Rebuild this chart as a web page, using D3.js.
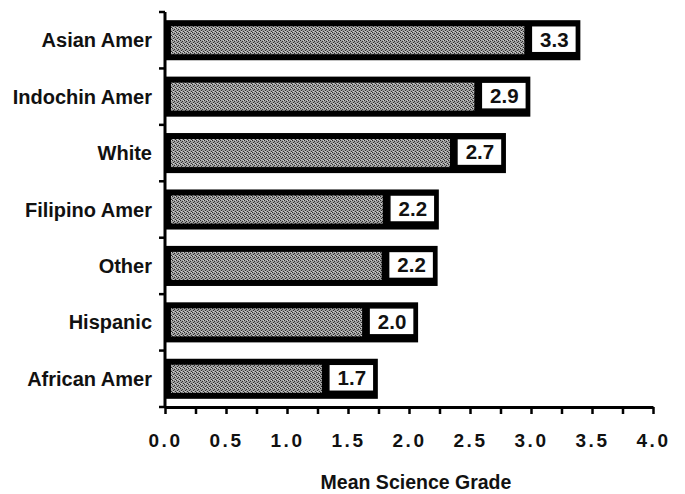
<!DOCTYPE html>
<html>
<head>
<meta charset="utf-8">
<script src="https://cdn.jsdelivr.net/npm/d3@7"></script>
<style>
  html, body { margin: 0; padding: 0; background: #fff; }
  svg { display: block; }
  text { font-family: "Liberation Sans", Arial, Helvetica, sans-serif; font-weight: bold; fill: #111; }
</style>
</head>
<body>
<svg id="chart" width="685" height="494"></svg>
<script>
const categories = ["Asian Amer", "Indochin Amer", "White", "Filipino Amer", "Other", "Hispanic", "African Amer"];
const values = [3.38, 2.97, 2.77, 2.22, 2.21, 2.05, 1.72];
const valueLabels = ["3.3", "2.9", "2.7", "2.2", "2.2", "2.0", "1.7"];
const xTicks = [0, 0.25, 0.5, 0.75, 1, 1.25, 1.5, 1.75, 2, 2.25, 2.5, 2.75, 3, 3.25, 3.5, 3.75, 4];
const xTitle = "Mean Science Grade";

const svg = d3.select("#chart");

// stipple pattern for the gray fill
const defs = svg.append("defs");
const pat = defs.append("pattern").attr("id", "stipple")
  .attr("width", 4).attr("height", 4).attr("patternUnits", "userSpaceOnUse");
pat.append("rect").attr("width", 4).attr("height", 4).attr("fill", "#9e9e9e");
[[0,0],[2,1],[1,2],[3,3],[3,0],[1,3]].forEach(([a,b], i) => {
  pat.append("rect").attr("x", a).attr("y", b).attr("width", 1).attr("height", 1)
    .attr("fill", i >= 4 ? "#cfcfcf" : "#2e2e2e");
});

const x = d3.scaleLinear().domain([0, 4]).range([165, 653]);
const pad = 0.29;
const y = d3.scaleBand().domain(categories).range([12, 407]).paddingInner(pad).paddingOuter(pad / 2);
const step = y.step();
const bw = y.bandwidth();

// bars
const g = svg.append("g");
categories.forEach((c, i) => {
  const v = values[i];
  const top = y(c);
  const x0 = x(0), x1 = x(v) + 3;
  g.append("rect").attr("x", x0).attr("y", top).attr("width", x1 - x0).attr("height", bw).attr("fill", "#000");
  const boxW = 45, boxH = 27;
  const boxRight = x(v) - 1;
  const boxLeft = boxRight - boxW;
  const cy = top + bw / 2 - 1;
  g.append("rect").attr("x", x0 + 6).attr("y", top + 6)
    .attr("width", Math.max(0, boxLeft - 7 - (x0 + 6))).attr("height", bw - 12)
    .attr("fill", "url(#stipple)");
  g.append("rect").attr("x", boxLeft).attr("y", cy - boxH / 2).attr("width", boxW).attr("height", boxH)
    .attr("fill", "#fff").attr("stroke", "#000").attr("stroke-width", 1.5);
  g.append("text").attr("x", boxLeft + boxW / 2 + 0.5).attr("y", cy).attr("dy", "0.36em")
    .attr("text-anchor", "middle").attr("font-size", 20.5).text(valueLabels[i]);
});

// y axis line and boundary ticks
const yAxisG = svg.append("g");
yAxisG.append("line").attr("x1", x(0)).attr("x2", x(0)).attr("y1", 12).attr("y2", 408)
  .attr("stroke", "#000").attr("stroke-width", 3);
const bounds = categories.map(c => y(c) - step * pad / 2).concat([407]);
bounds.forEach(b => {
  yAxisG.append("line").attr("x1", x(0) - 6).attr("x2", x(0)).attr("y1", b).attr("y2", b)
    .attr("stroke", "#000").attr("stroke-width", 2.5);
});
categories.forEach(c => {
  yAxisG.append("text").attr("x", 152).attr("y", y(c) + bw / 2).attr("dy", "0.35em")
    .attr("text-anchor", "end").attr("font-size", 20).text(c);
});

// x axis
const xAxis = d3.axisBottom(x).tickValues(xTicks).tickSize(7).tickSizeOuter(0).tickPadding(20)
  .tickFormat(d => (Math.round(d * 100) % 50 === 0) ? d3.format(".1f")(d) : "");
const xg = svg.append("g").attr("transform", "translate(0,407)").call(xAxis);
xg.select(".domain").attr("stroke", "#000").attr("stroke-width", 3);
xg.selectAll(".tick line").attr("stroke", "#000").attr("stroke-width", 2.5);
xg.selectAll(".tick text").attr("font-size", 19).attr("letter-spacing", "2.5px")
  .attr("font-family", "'Liberation Sans', Arial, sans-serif").attr("font-weight", "bold")
  .attr("fill", "#111").attr("dy", null).attr("y", 40);

svg.append("text").attr("x", 416).attr("y", 489).attr("text-anchor", "middle")
  .attr("font-size", 19.5).text(xTitle);
</script>
</body>
</html>
